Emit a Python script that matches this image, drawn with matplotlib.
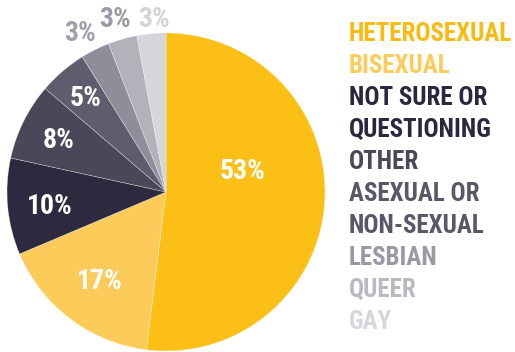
import matplotlib.pyplot as plt
from matplotlib import font_manager

# data
categories = ["HETEROSEXUAL", "BISEXUAL", "NOT SURE OR\nQUESTIONING", "OTHER",
              "ASEXUAL OR\nNON-SEXUAL", "LESBIAN", "QUEER", "GAY"]
values = [53, 17, 10, 8, 5, 3, 3, 3]
pct_labels = ["53%", "17%", "10%", "8%", "5%", "3%", "3%", "3%"]

colors = ["#FBBF15", "#FCCB5A", "#2D2A40", "#4A4759", "#5F5C6E", "#8F8D99", "#B3B2BB", "#D5D5DA"]
text_colors = ["#FBBA12", "#FCCB5A", "#2A2840", "#4B4859", "#5A5768", "#9A99A3", "#BAB9C1", "#D6D6DB"]
pct_colors = ["white", "white", "white", "white", "white", "#A2A1AB", "#9B9AA4", "#D3D3D8"]
# label spots in pie units (radius 1)
pct_pos = [(0.484, 0.126), (-0.415, -0.566), (-0.730, -0.094), (-0.673, 0.327),
           (-0.503, 0.591), (-0.541, 0.994), (-0.321, 1.088), (-0.075, 1.088)]

names = set(f.name for f in font_manager.fontManager.ttflist)
fam = "DejaVu Sans"
for cand in ["Roboto Condensed", "Archivo Narrow", "Barlow Semi Condensed", "Roboto"]:
    if cand in names:
        fam = cand
        break
plt.rcParams['font.family'] = [fam, 'DejaVu Sans']

W, H = 515, 352
fig = plt.figure(figsize=(W / 100, H / 100), dpi=100)
cx, cy, r = 166, 192, 159
ax = fig.add_axes([(cx - r) / W, (H - cy - r) / H, 2 * r / W, 2 * r / H])
ax.pie(values, colors=colors, startangle=90, counterclock=False, radius=1,
       wedgeprops=dict(linewidth=0.4, edgecolor="#ffffff80"))
ax.set_xlim(-1, 1)
ax.set_ylim(-1, 1)
ax.set_aspect('equal')
ax.axis('off')

for lab, (x, y), c in zip(pct_labels, pct_pos, pct_colors):
    ax.text(x, y, lab, color=c, fontsize=20, fontweight='bold', ha='center', va='center',
            clip_on=False)

# legend as coloured text
line = 0
for name, c in zip(categories, text_colors):
    for part in name.split("\n"):
        top = 22 + 32 * line
        fig.text(349 / W, 1 - top / H, part, color=c, fontsize=18, fontweight='bold',
                 ha='left', va='top')
        line += 1

fig.savefig("out.png", dpi=100)
